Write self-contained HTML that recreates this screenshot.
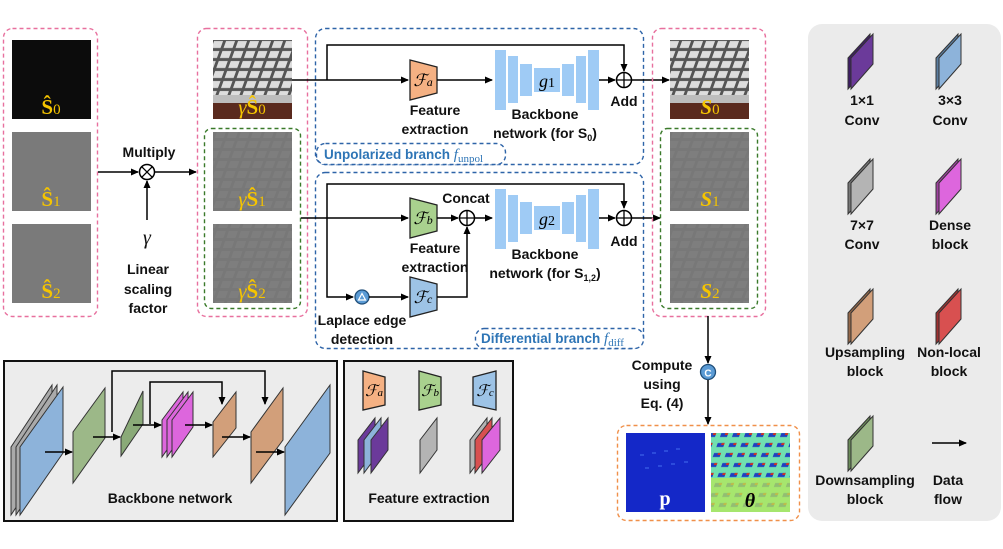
<!DOCTYPE html>
<html><head><meta charset="utf-8">
<style>
html,body{margin:0;padding:0;background:#fff;}
svg{display:block;}
.t{font-family:"Liberation Sans",sans-serif;font-weight:bold;font-size:14px;fill:#111;text-anchor:middle;}
.b{font-family:"Liberation Sans",sans-serif;font-weight:bold;font-size:13.5px;fill:#2e75b6;}
.y{font-family:"Liberation Serif",serif;font-weight:bold;font-size:21px;fill:#f5c400;text-anchor:middle;}
.m{font-family:"Liberation Serif",serif;font-style:italic;font-size:20px;fill:#111;text-anchor:middle;}
</style></head><body>
<svg width="1003" height="549" viewBox="0 0 1003 549" xmlns="http://www.w3.org/2000/svg">
<defs>
<marker id="ar" markerWidth="8" markerHeight="8" refX="7" refY="4" orient="auto" markerUnits="userSpaceOnUse">
<path d="M0,0.5 L8,4 L0,7.5 z" fill="#000"/></marker>
<pattern id="kb" width="12" height="10" patternUnits="userSpaceOnUse" patternTransform="skewX(-20)">
<rect width="12" height="10" fill="#555"/><rect x="1" y="1" width="9" height="7" fill="#ddd"/></pattern>
<pattern id="kbg" width="12" height="10" patternUnits="userSpaceOnUse" patternTransform="skewX(-20)">
<rect width="12" height="10" fill="#787878"/><rect x="1" y="1" width="9" height="7" fill="#7e7e7e"/></pattern>
<pattern id="kbt" width="12" height="10" patternUnits="userSpaceOnUse" patternTransform="skewX(-20)">
<rect width="12" height="10" fill="#70e0b0"/><rect x="3" y="3" width="7" height="4" fill="#2040c0"/><rect x="7" y="3" width="3" height="2" fill="#d03020"/></pattern>
</defs>

<rect x="3.5" y="28.5" width="94" height="288" rx="9" fill="none" stroke="#e8709e" stroke-width="1.4" stroke-dasharray="4,3"/>
<rect x="12" y="40" width="79" height="79" fill="#0c0c0c"/>
<rect x="12" y="132" width="79" height="79" fill="#7a7a7a"/>
<rect x="12" y="224" width="79" height="79" fill="#7a7a7a"/>
<text class="y" x="51" y="114">Ŝ<tspan font-size="15" font-weight="normal">0</tspan></text>
<text class="y" x="51" y="206">Ŝ<tspan font-size="15" font-weight="normal">1</tspan></text>
<text class="y" x="51" y="298">Ŝ<tspan font-size="15" font-weight="normal">2</tspan></text>

<line x1="98" y1="172" x2="138" y2="172" stroke="#000" stroke-width="1.5" marker-end="url(#ar)"/>
<circle cx="147" cy="172" r="7.5" fill="#fff" stroke="#000" stroke-width="1.5"/>
<path d="M141.7,166.7 L152.3,177.3 M152.3,166.7 L141.7,177.3" stroke="#000" stroke-width="1.3"/>
<line x1="155" y1="172" x2="196" y2="172" stroke="#000" stroke-width="1.5" marker-end="url(#ar)"/>
<line x1="147" y1="220" x2="147" y2="181" stroke="#000" stroke-width="1.5" marker-end="url(#ar)"/>
<text class="t" x="149" y="157">Multiply</text>
<text class="m" x="147" y="244">γ</text>
<text class="t" x="148" y="274">Linear</text>
<text class="t" x="148" y="294">scaling</text>
<text class="t" x="148" y="313">factor</text>

<rect x="197.5" y="28.5" width="110" height="288" rx="9" fill="none" stroke="#e8709e" stroke-width="1.4" stroke-dasharray="4,3"/>
<rect x="213" y="40" width="79" height="79" fill="url(#kb)"/>
<rect x="213" y="100" width="79" height="19" fill="#5a2a1e"/>
<rect x="213" y="95" width="79" height="8" fill="#bdbdbd"/>
<rect x="213" y="132" width="79" height="79" fill="url(#kbg)"/>
<rect x="213" y="224" width="79" height="79" fill="url(#kbg)"/>
<rect x="204.5" y="128.5" width="96" height="180" rx="7" fill="none" stroke="#3a7a2a" stroke-width="1.4" stroke-dasharray="4,3"/>
<text class="y" x="252" y="114"><tspan font-style="italic" font-weight="normal">γ</tspan>Ŝ<tspan font-size="15" font-weight="normal">0</tspan></text>
<text class="y" x="252" y="206"><tspan font-style="italic" font-weight="normal">γ</tspan>Ŝ<tspan font-size="15" font-weight="normal">1</tspan></text>
<text class="y" x="252" y="298"><tspan font-style="italic" font-weight="normal">γ</tspan>Ŝ<tspan font-size="15" font-weight="normal">2</tspan></text>

<rect x="315.5" y="28.5" width="328" height="136" rx="10" fill="none" stroke="#2e64a8" stroke-width="1.4" stroke-dasharray="4,3"/>
<rect x="316.5" y="143.5" width="189" height="21" rx="9" fill="#fff" stroke="#2e64a8" stroke-width="1.4" stroke-dasharray="4,3"/>
<text class="b" x="324" y="159">Unpolarized branch <tspan font-family="Liberation Serif" font-style="italic" font-weight="normal" font-size="15">f</tspan><tspan font-family="Liberation Serif" font-weight="normal" font-size="11" dy="3">unpol</tspan></text>
<rect x="315.5" y="172.5" width="328" height="176" rx="10" fill="none" stroke="#2e64a8" stroke-width="1.4" stroke-dasharray="4,3"/>
<rect x="475.5" y="328.5" width="168" height="20" rx="9" fill="#fff" stroke="#2e64a8" stroke-width="1.4" stroke-dasharray="4,3"/>
<text class="b" x="481" y="343">Differential branch <tspan font-family="Liberation Serif" font-style="italic" font-weight="normal" font-size="15">f</tspan><tspan font-family="Liberation Serif" font-weight="normal" font-size="11" dy="3">diff</tspan></text>

<line x1="292" y1="80" x2="408" y2="80" stroke="#000" stroke-width="1.5" marker-end="url(#ar)"/>
<polyline points="327,80 327,45 624,45 624,71" fill="none" stroke="#000" stroke-width="1.5" marker-end="url(#ar)"/>
<polygon points="410,60 437,67 437,93 410,100" fill="#f5b183" stroke="#222" stroke-width="1.3"/>
<text x="423" y="86" font-family="Liberation Serif" font-style="italic" font-size="17" text-anchor="middle">ℱ<tspan font-size="12">a</tspan></text>
<line x1="437" y1="80" x2="492" y2="80" stroke="#000" stroke-width="1.5" marker-end="url(#ar)"/>
<g fill="#9fcbf5">
<rect x="495" y="50" width="11" height="60"/><rect x="508" y="56" width="10" height="47"/><rect x="520" y="64" width="12" height="32"/>
<rect x="534" y="68" width="26" height="24"/>
<rect x="562" y="64" width="12" height="32"/><rect x="576" y="56" width="10" height="47"/><rect x="588" y="50" width="11" height="60"/>
</g>
<text x="547" y="87" font-family="Liberation Serif" font-style="italic" font-size="18" text-anchor="middle">g<tspan font-style="normal" font-size="14">1</tspan></text>
<line x1="599" y1="80" x2="615" y2="80" stroke="#000" stroke-width="1.5" marker-end="url(#ar)"/>
<circle cx="624" cy="80" r="7.5" fill="#fff" stroke="#000" stroke-width="1.5"/>
<path d="M616.5,80 H631.5 M624,72.5 V87.5" stroke="#000" stroke-width="1.3"/>
<line x1="632" y1="80" x2="669" y2="80" stroke="#000" stroke-width="1.5" marker-end="url(#ar)"/>
<text class="t" x="435" y="115">Feature</text>
<text class="t" x="435" y="134">extraction</text>
<text class="t" x="545" y="119">Backbone</text>
<text class="t" x="545" y="138">network (for S<tspan font-size="9" dy="3">0</tspan><tspan dy="-3">)</tspan></text>
<text class="t" x="624" y="106">Add</text>

<line x1="301" y1="218" x2="408" y2="218" stroke="#000" stroke-width="1.5" marker-end="url(#ar)"/>
<polyline points="327,218 327,184 624,184 624,208" fill="none" stroke="#000" stroke-width="1.5" marker-end="url(#ar)"/>
<polyline points="327,218 327,297 353,297" fill="none" stroke="#000" stroke-width="1.5" marker-end="url(#ar)"/>
<circle cx="362" cy="297" r="7" fill="#5b9bd5" stroke="#1f4e79" stroke-width="1.3"/>
<path d="M358.5,300 L362,293.5 L365.5,300 z" fill="none" stroke="#fff" stroke-width="1.2"/>
<line x1="369" y1="297" x2="408" y2="297" stroke="#000" stroke-width="1.5" marker-end="url(#ar)"/>
<polygon points="410,198 437,205 437,231 410,238" fill="#a9d18e" stroke="#222" stroke-width="1.3"/>
<text x="423" y="224" font-family="Liberation Serif" font-style="italic" font-size="17" text-anchor="middle">ℱ<tspan font-size="12">b</tspan></text>
<polygon points="410,277 437,284 437,310 410,317" fill="#9dc3e6" stroke="#222" stroke-width="1.3"/>
<text x="423" y="303" font-family="Liberation Serif" font-style="italic" font-size="17" text-anchor="middle">ℱ<tspan font-size="12">c</tspan></text>
<line x1="437" y1="218" x2="458" y2="218" stroke="#000" stroke-width="1.5" marker-end="url(#ar)"/>
<polyline points="437,297 467,297 467,227" fill="none" stroke="#000" stroke-width="1.5" marker-end="url(#ar)"/>
<circle cx="467" cy="218" r="7.5" fill="#fff" stroke="#000" stroke-width="1.5"/>
<path d="M459.5,218 H474.5 M467,210.5 V225.5" stroke="#000" stroke-width="1.3"/>
<line x1="475" y1="218" x2="492" y2="218" stroke="#000" stroke-width="1.5" marker-end="url(#ar)"/>
<g fill="#9fcbf5">
<rect x="495" y="189" width="11" height="60"/><rect x="508" y="195" width="10" height="47"/><rect x="520" y="202" width="12" height="32"/>
<rect x="534" y="206" width="26" height="24"/>
<rect x="562" y="202" width="12" height="32"/><rect x="576" y="195" width="10" height="47"/><rect x="588" y="189" width="11" height="60"/>
</g>
<text x="547" y="225" font-family="Liberation Serif" font-style="italic" font-size="18" text-anchor="middle">g<tspan font-style="normal" font-size="14">2</tspan></text>
<line x1="599" y1="218" x2="615" y2="218" stroke="#000" stroke-width="1.5" marker-end="url(#ar)"/>
<circle cx="624" cy="218" r="7.5" fill="#fff" stroke="#000" stroke-width="1.5"/>
<path d="M616.5,218 H631.5 M624,210.5 V225.5" stroke="#000" stroke-width="1.3"/>
<line x1="632" y1="218" x2="660" y2="218" stroke="#000" stroke-width="1.5" marker-end="url(#ar)"/>
<text class="t" x="466" y="203">Concat</text>
<text class="t" x="435" y="253">Feature</text>
<text class="t" x="435" y="272">extraction</text>
<text class="t" x="545" y="259">Backbone</text>
<text class="t" x="545" y="278">network (for S<tspan font-size="9" dy="3">1,2</tspan><tspan dy="-3">)</tspan></text>
<text class="t" x="624" y="246">Add</text>
<text class="t" x="362" y="325">Laplace edge</text>
<text class="t" x="362" y="344">detection</text>

<rect x="652.5" y="28.5" width="113" height="288" rx="9" fill="none" stroke="#e8709e" stroke-width="1.4" stroke-dasharray="4,3"/>
<rect x="670" y="40" width="79" height="79" fill="url(#kb)"/>
<rect x="670" y="100" width="79" height="19" fill="#5a2a1e"/>
<rect x="670" y="95" width="79" height="8" fill="#bdbdbd"/>
<rect x="670" y="132" width="79" height="79" fill="url(#kbg)"/>
<rect x="670" y="224" width="79" height="79" fill="url(#kbg)"/>
<rect x="660.5" y="128.5" width="97" height="180" rx="7" fill="none" stroke="#3a7a2a" stroke-width="1.4" stroke-dasharray="4,3"/>
<text class="y" x="710" y="114" font-style="italic">S<tspan font-size="15" font-style="normal" font-weight="normal">0</tspan></text>
<text class="y" x="710" y="206" font-style="italic">S<tspan font-size="15" font-style="normal" font-weight="normal">1</tspan></text>
<text class="y" x="710" y="298" font-style="italic">S<tspan font-size="15" font-style="normal" font-weight="normal">2</tspan></text>

<line x1="708" y1="316" x2="708" y2="363" stroke="#000" stroke-width="1.5" marker-end="url(#ar)"/>
<circle cx="708" cy="372" r="7.5" fill="#5b9bd5" stroke="#1f4e79" stroke-width="1.3"/>
<text x="708" y="376.5" font-family="Liberation Sans" font-weight="bold" font-size="10" fill="#fff" text-anchor="middle">C</text>
<line x1="708" y1="380" x2="708" y2="424" stroke="#000" stroke-width="1.5" marker-end="url(#ar)"/>
<text class="t" x="662" y="370">Compute</text>
<text class="t" x="662" y="389">using</text>
<text class="t" x="662" y="408">Eq. (4)</text>
<rect x="617.5" y="425.5" width="182" height="95" rx="9" fill="none" stroke="#f0904a" stroke-width="1.4" stroke-dasharray="4,3"/>
<rect x="626" y="433" width="79" height="79" fill="#1428c8"/>
<g stroke="#3a60e8" stroke-width="1.2"><path d="M640,455 h4 M652,453 h4 M664,451 h4 M676,449 h4 M645,468 h4 M658,466 h4 M671,464 h4 M684,462 h4"/></g>
<rect x="711" y="433" width="79" height="79" fill="url(#kbt)"/>
<rect x="711" y="478" width="79" height="34" fill="#b8e858" opacity="0.75"/>
<text x="665" y="505" font-family="Liberation Serif" font-weight="bold" font-size="20" fill="#fff" text-anchor="middle">p</text>
<text x="750" y="507" font-family="Liberation Serif" font-weight="bold" font-style="italic" font-size="20" fill="#000" text-anchor="middle">θ</text>

<rect x="808" y="24" width="193" height="497" rx="14" fill="#ebebeb"/>
<g stroke="#333" stroke-width="1">
<polygon points="848,58 870,34 870,64 848,89" fill="#3f1d66"/><polygon points="851,58 873,34 873,64 851,89" fill="#6b3a9a"/>
<polygon points="936,58 958,34 958,64 936,89" fill="#5a7da0"/><polygon points="939,58 961,34 961,64 939,89" fill="#8db3da"/>
<polygon points="848,183 870,159 870,189 848,214" fill="#777"/><polygon points="851,183 873,159 873,189 851,214" fill="#b4b4b4"/>
<polygon points="936,183 958,159 958,189 936,214" fill="#a040a0"/><polygon points="939,183 961,159 961,189 939,214" fill="#dd66dd"/>
<polygon points="848,313 870,289 870,319 848,344" fill="#94684a"/><polygon points="851,313 873,289 873,319 851,344" fill="#d29f7a"/>
<polygon points="936,313 958,289 958,319 936,344" fill="#a03030"/><polygon points="939,313 961,289 961,319 939,344" fill="#d85050"/>
<polygon points="848,440 870,416 870,446 848,471" fill="#6a8a58"/><polygon points="851,440 873,416 873,446 851,471" fill="#9cb888"/>
</g>
<line x1="932" y1="443" x2="966" y2="443" stroke="#000" stroke-width="1.5" marker-end="url(#ar)"/>
<text class="t" x="862" y="105">1×1</text><text class="t" x="862" y="125">Conv</text>
<text class="t" x="950" y="105">3×3</text><text class="t" x="950" y="125">Conv</text>
<text class="t" x="862" y="230">7×7</text><text class="t" x="862" y="249">Conv</text>
<text class="t" x="950" y="230">Dense</text><text class="t" x="950" y="249">block</text>
<text class="t" x="865" y="357">Upsampling</text><text class="t" x="865" y="376">block</text>
<text class="t" x="949" y="357">Non-local</text><text class="t" x="949" y="376">block</text>
<text class="t" x="865" y="485">Downsampling</text><text class="t" x="865" y="504">block</text>
<text class="t" x="948" y="485">Data</text><text class="t" x="948" y="504">flow</text>

<rect x="4" y="361" width="333" height="160" fill="#ececec" stroke="#111" stroke-width="2"/>
<g stroke="#333" stroke-width="1">
<polygon points="11,447 52,385 52,453 11,515" fill="#aaa"/>
<polygon points="16,447 57,385 57,453 16,515" fill="#aaa"/>
<polygon points="20,447 63,387 63,453 20,515" fill="#8db3da"/>
<polygon points="73,432 105,388 105,438 73,483" fill="#9cb888"/>
<polygon points="121,437 143,391 143,424 121,456" fill="#8aaa78"/>
<polygon points="162,420 183,392 183,427 162,457" fill="#dd66dd"/>
<polygon points="167,420 188,392 188,427 167,457" fill="#dd66dd"/>
<polygon points="172,420 193,392 193,427 172,457" fill="#dd66dd"/>
<polygon points="213,422 236,392 236,428 213,457" fill="#d29f7a"/>
<polygon points="251,432 283,388 283,440 251,483" fill="#d29f7a"/>
<polygon points="285,447 330,385 330,453 285,515" fill="#8db3da"/>
</g>
<g stroke="#000" stroke-width="1.5" fill="none">
<line x1="45" y1="452" x2="72" y2="452" marker-end="url(#ar)"/>
<line x1="93" y1="437" x2="120" y2="437" marker-end="url(#ar)"/>
<line x1="133" y1="425" x2="161" y2="425" marker-end="url(#ar)"/>
<line x1="185" y1="425" x2="212" y2="425" marker-end="url(#ar)"/>
<line x1="222" y1="437" x2="250" y2="437" marker-end="url(#ar)"/>
<line x1="256" y1="452" x2="284" y2="452" marker-end="url(#ar)"/>
<polyline points="112,432 112,371 265,371 265,404" marker-end="url(#ar)"/>
<polyline points="150,424 150,382 222,382 222,404" marker-end="url(#ar)"/>
</g>
<text class="t" x="170" y="503">Backbone network</text>

<rect x="344" y="361" width="169" height="160" fill="#ececec" stroke="#111" stroke-width="2"/>
<polygon points="363,371 385,377 385,405 363,410" fill="#f5b183" stroke="#222" stroke-width="1.3"/>
<text x="374" y="396" font-family="Liberation Serif" font-style="italic" font-size="16" text-anchor="middle">ℱ<tspan font-size="11">a</tspan></text>
<polygon points="419,371 441,377 441,405 419,410" fill="#a9d18e" stroke="#222" stroke-width="1.3"/>
<text x="430" y="396" font-family="Liberation Serif" font-style="italic" font-size="16" text-anchor="middle">ℱ<tspan font-size="11">b</tspan></text>
<polygon points="473,377 496,371 496,410 473,405" fill="#9dc3e6" stroke="#222" stroke-width="1.3"/>
<text x="485" y="396" font-family="Liberation Serif" font-style="italic" font-size="16" text-anchor="middle">ℱ<tspan font-size="11">c</tspan></text>
<g stroke="#333" stroke-width="1">
<polygon points="358,440 375,418 375,450 358,473" fill="#6b3a9a"/>
<polygon points="364,440 381,418 381,450 364,473" fill="#8db3da"/>
<polygon points="371,440 388,418 388,450 371,473" fill="#6b3a9a"/>
<polygon points="420,440 437,418 437,450 420,473" fill="#b4b4b4"/>
<polygon points="470,440 487,418 487,450 470,473" fill="#b4b4b4"/>
<polygon points="475,440 492,418 492,450 475,473" fill="#d85050"/>
<polygon points="482,440 500,418 500,450 482,473" fill="#dd66dd"/>
</g>
<text class="t" x="429" y="503">Feature extraction</text>
</svg>
</body></html>
